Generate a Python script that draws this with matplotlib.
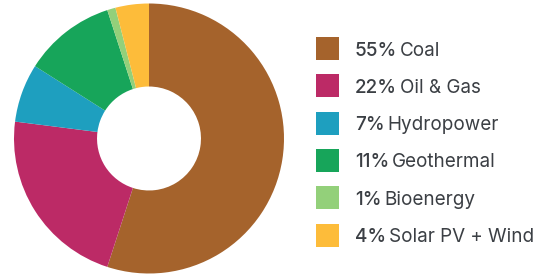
import matplotlib
matplotlib.use("Agg")
import matplotlib.pyplot as plt
from matplotlib.patches import Rectangle

categories = ["Coal", "Oil & Gas", "Hydropower", "Geothermal", "Bioenergy", "Solar PV + Wind"]
values = [55, 22, 7, 11, 1, 4]
colors = ["#A5632C", "#BC2A66", "#1E9FBF", "#17A55A", "#93D07A", "#FDBC3A"]

W, H = 544, 274
fig = plt.figure(figsize=(W / 100, H / 100), dpi=100)

cx, cy, R = 149, 138.5, 135
ax = fig.add_axes([(cx - R) / W, (H - cy - R) / H, 2 * R / W, 2 * R / H])
ax.pie(values, colors=colors, startangle=90, counterclock=False, radius=1,
       wedgeprops=dict(width=0.615, linewidth=0))
ax.set_xlim(-1, 1)
ax.set_ylim(-1, 1)
ax.set_aspect("equal")
ax.axis("off")

row0, step = 48.5, 37.3
sq = 23
fs = 13.6
for i, (c, v, col) in enumerate(zip(categories, values, colors)):
    yc = row0 + i * step
    fig.patches.append(Rectangle((316 / W, (H - yc - sq / 2) / H), sq / W, sq / H,
                                 transform=fig.transFigure, facecolor=col, edgecolor="none"))
    t = fig.text(355 / W, (H - yc) / H, f"{v}%", fontsize=fs, fontfamily="Inter",
                 fontweight="medium", color="#3b3f44", va="center_baseline", ha="left")
    fig.canvas.draw()
    bb = t.get_window_extent()
    fig.text((bb.x1 + 3) / W, (H - yc) / H, c, fontsize=fs, fontfamily="Inter",
             color="#3b3f44", va="center_baseline", ha="left")

fig.savefig("out.png", dpi=100)
